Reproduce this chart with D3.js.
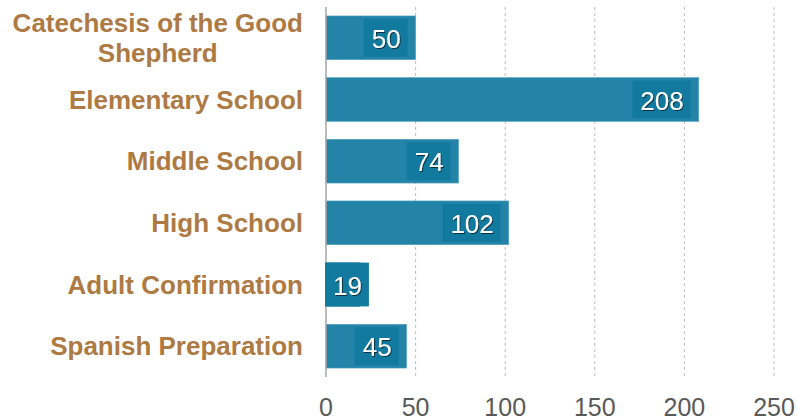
<!DOCTYPE html>
<html>
<head>
<meta charset="utf-8">
<script src="https://cdn.jsdelivr.net/npm/d3@7"></script>
<style>
  body { margin: 0; background: #fff; }
  svg { display: block; font-family: "Liberation Sans", Arial, sans-serif; }
</style>
</head>
<body>
<div id="chart"></div>
<script>
// programme names (multi-line where the original wraps) and enrolment counts
const programs = [
  ['Catechesis of the Good', 'Shepherd'],
  ['Elementary School'],
  ['Middle School'],
  ['High School'],
  ['Adult Confirmation'],
  ['Spanish Preparation'],
];
const counts = [50, 208, 74, 102, 19, 45];
const x_ticks = [0, 50, 100, 150, 200, 250];

const width = 798, height = 420;
const margin = {top: 7, right: 24, bottom: 43, left: 326};

const bar_color = '#2484a8';
const box_color = '#137a9f';
const label_color = '#ad7a44';

const data = counts.map((v, i) => ({value: v, label: programs[i], key: programs[i].join(' ')}));

const svg = d3.select('#chart').append('svg')
  .attr('width', width)
  .attr('height', height);

const x = d3.scaleLinear()
  .domain([0, 250])
  .range([margin.left, width - margin.right]);

const y = d3.scaleBand()
  .domain(data.map(d => d.key))
  .range([margin.top, height - margin.bottom])
  .paddingInner(0.29)
  .paddingOuter(0.145);

// text shadow for the value labels
const defs = svg.append('defs');
defs.append('filter')
  .attr('id', 'shadow')
  .attr('x', '-20%').attr('y', '-20%')
  .attr('width', '140%').attr('height', '140%')
  .append('feDropShadow')
  .attr('dx', 1).attr('dy', 1)
  .attr('stdDeviation', 0.6)
  .attr('flood-color', '#000')
  .attr('flood-opacity', 0.6);

// dashed vertical gridlines
svg.append('g')
  .selectAll('line')
  .data(x_ticks.slice(1))
  .join('line')
  .attr('x1', d => x(d)).attr('x2', d => x(d))
  .attr('y1', margin.top).attr('y2', height - margin.bottom)
  .attr('stroke', '#bdbdbd')
  .attr('stroke-width', 1)
  .attr('stroke-dasharray', '3,3');

// bars
svg.append('g')
  .selectAll('rect')
  .data(data)
  .join('rect')
  .attr('x', x(0))
  .attr('y', d => y(d.key))
  .attr('width', d => x(d.value) - x(0))
  .attr('height', y.bandwidth())
  .attr('fill', bar_color)
  .attr('stroke', '#5aa6c4')
  .attr('stroke-width', 0.6);

// zero axis line
svg.append('line')
  .attr('x1', x(0)).attr('x2', x(0))
  .attr('y1', margin.top).attr('y2', height - margin.bottom)
  .attr('stroke', '#a6a6a6')
  .attr('stroke-width', 1.5);

// value labels sitting in a darker box at the end of each bar
const value_g = svg.append('g')
  .selectAll('g')
  .data(data)
  .join('g');

value_g.each(function(d) {
  const g = d3.select(this);
  const text = g.append('text')
    .attr('font-size', 26)
    .attr('fill', '#fff')
    .attr('filter', 'url(#shadow)')
    .attr('dominant-baseline', 'central')
    .text(d.value);
  const tw = text.node().getComputedTextLength();
  const bw = tw + 15;
  let right = x(d.value) - 8;
  let left = right - bw;
  let inset = 3;
  if (left < x(0)) { left = x(0) - 1; right = left + bw; inset = 0; }
  g.insert('rect', 'text')
    .attr('x', left)
    .attr('y', y(d.key) + inset)
    .attr('width', bw)
    .attr('height', y.bandwidth() - inset * 2)
    .attr('fill', box_color);
  text.attr('x', left + 8).attr('y', y(d.key) + y.bandwidth() / 2 + 1);
});

// category labels
const line_h = 30;
const label_right = 303;
svg.append('g')
  .selectAll('text')
  .data(data)
  .join('text')
  .attr('font-size', 26)
  .attr('font-weight', 'bold')
  .attr('fill', label_color)
  .attr('text-anchor', 'middle')
  .attr('dominant-baseline', 'central')
  .each(function(d) {
    const t = d3.select(this);
    const cy = y(d.key) + y.bandwidth() / 2;
    const n = d.label.length;
    d.label.forEach((line, i) => {
      t.append('tspan')
        .attr('x', 0)
        .attr('y', cy + (i - (n - 1) / 2) * line_h)
        .text(line);
    });
    // right-align the label block at the axis, lines centred within it
    const bb = this.getBBox();
    t.selectAll('tspan').attr('x', label_right - bb.width / 2);
  });

// x axis tick labels
svg.append('g')
  .selectAll('text')
  .data(x_ticks)
  .join('text')
  .attr('x', d => x(d))
  .attr('y', 416)
  .attr('text-anchor', 'middle')
  .attr('font-size', 25)
  .attr('fill', '#595959')
  .text(d => d);
</script>
</body>
</html>
